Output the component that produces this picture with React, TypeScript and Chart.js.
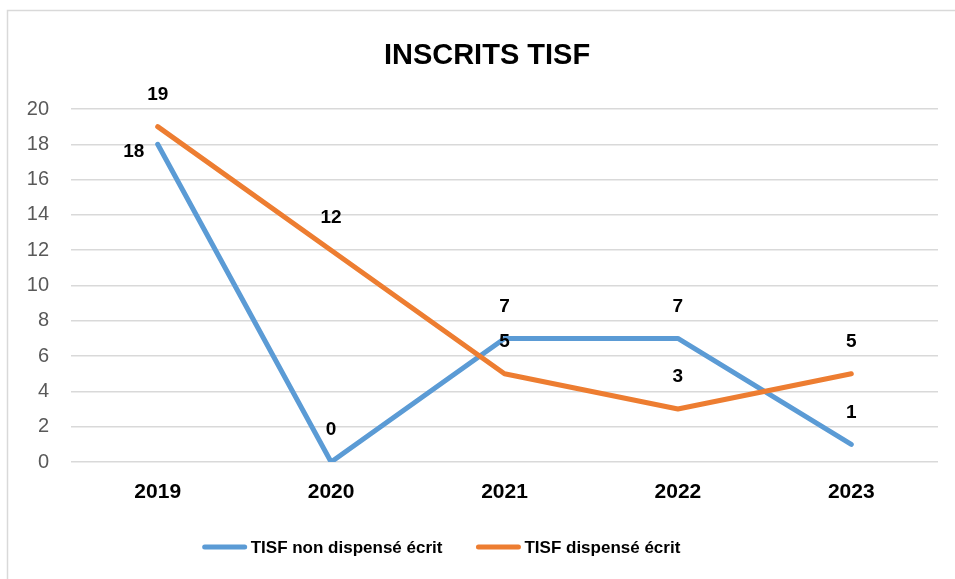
import React, { useEffect, useRef } from 'react';
import { Chart, registerables } from 'chart.js';
Chart.register(...registerables);

const title = 'INSCRITS TISF';
const categories = ['2019', '2020', '2021', '2022', '2023'];
const seriesNames = ['TISF non dispensé écrit', 'TISF dispensé écrit'];
const nonDispense = [18, 0, 7, 7, 1];
const dispense = [19, 12, 5, 3, 5];
const yMin = 0;
const yMax = 20;
const yStep = 2;

const BLUE = '#5B9BD5';
const ORANGE = '#ED7D31';
const FONT = "'Liberation Sans', Arial, sans-serif";

const decor = {
  id: 'decor',
  beforeDraw(chart: any) {
    const { ctx, width, height } = chart;
    ctx.save();
    ctx.fillStyle = '#ffffff';
    ctx.fillRect(0, 0, width, height);
    ctx.strokeStyle = '#d9d9d9';
    ctx.lineWidth = 1.5;
    ctx.beginPath();
    ctx.moveTo(7.5, height);
    ctx.lineTo(7.5, 10.5);
    ctx.lineTo(width, 10.5);
    ctx.stroke();
    ctx.restore();
  },
  afterDraw(chart: any) {
    const { ctx } = chart;
    ctx.save();
    // title
    ctx.fillStyle = '#000';
    ctx.font = `bold 29px ${FONT}`;
    ctx.textAlign = 'center';
    ctx.textBaseline = 'middle';
    ctx.fillText(title, 487, 56);
    // legend
    ctx.font = `bold 17px ${FONT}`;
    const w1 = ctx.measureText(seriesNames[0]).width;
    const w2 = ctx.measureText(seriesNames[1]).width;
    const sample = 44;
    const gapText = 4;
    const gapItem = 34;
    const total = sample + gapText + w1 + gapItem + sample + gapText + w2;
    let x = 441.5 - total / 2;
    const y = 547;
    const colors = [BLUE, ORANGE];
    const widths = [w1, w2];
    ctx.textAlign = 'left';
    ctx.lineCap = 'round';
    for (let i = 0; i < 2; i++) {
      ctx.strokeStyle = colors[i];
      ctx.lineWidth = 5;
      ctx.beginPath();
      ctx.moveTo(x + 2, y);
      ctx.lineTo(x + sample - 2, y);
      ctx.stroke();
      x += sample + gapText;
      ctx.fillStyle = '#000';
      ctx.fillText(seriesNames[i], x, y + 1);
      x += widths[i] + gapItem;
    }
    ctx.restore();
  },
  afterDatasetsDraw(chart: any) {
    const { ctx } = chart;
    ctx.save();
    ctx.font = `bold 19px ${FONT}`;
    ctx.fillStyle = '#000';
    ctx.textAlign = 'center';
    ctx.textBaseline = 'middle';
    chart.data.datasets.forEach((ds: any, di: number) => {
      const meta = chart.getDatasetMeta(di);
      meta.data.forEach((pt: any, i: number) => {
        let lx = pt.x;
        let ly = pt.y - 32;
        if (di === 0 && i === 0) {
          lx = pt.x - 24;
          ly = pt.y + 7;
        }
        ctx.fillText(String(ds.data[i]), lx, ly);
      });
    });
    ctx.restore();
  },
};

export default function App() {
  const ref = useRef<HTMLCanvasElement>(null);
  useEffect(() => {
    if (!ref.current) return;
    const chart = new Chart(ref.current, {
      type: 'line',
      data: {
        labels: categories,
        datasets: [
          {
            label: seriesNames[0],
            data: nonDispense,
            borderColor: BLUE,
            backgroundColor: BLUE,
            borderWidth: 5,
            pointRadius: 0,
            tension: 0,
            borderCapStyle: 'round',
            borderJoinStyle: 'round',
            order: 1,
          },
          {
            label: seriesNames[1],
            data: dispense,
            borderColor: ORANGE,
            backgroundColor: ORANGE,
            borderWidth: 5,
            pointRadius: 0,
            tension: 0,
            borderCapStyle: 'round',
            borderJoinStyle: 'round',
            order: 0,
          },
        ],
      },
      options: {
        responsive: false,
        animation: false,
        devicePixelRatio: 1,
        layout: { padding: { left: 0, right: 17, top: 109, bottom: 57 } },
        plugins: {
          legend: { display: false },
          title: { display: false },
          tooltip: { enabled: false },
        },
        scales: {
          x: {
            type: 'category',
            offset: true,
            grid: { display: false, drawTicks: false },
            border: { display: false },
            ticks: {
              color: '#000',
              font: { family: FONT, size: 21, weight: 'bold' },
              padding: 18,
            },
            afterFit(scale: any) {
              scale.height = 60;
            },
          },
          y: {
            min: yMin,
            max: yMax,
            grid: { color: '#d9d9d9', lineWidth: 1.5, drawTicks: false },
            border: { display: false },
            ticks: {
              stepSize: yStep,
              color: '#595959',
              font: { family: FONT, size: 20 },
              padding: 22,
            },
            afterFit(scale: any) {
              scale.width = 71;
            },
          },
        },
      },
      plugins: [decor],
    });
    return () => chart.destroy();
  }, []);
  return (
    <div style={{ position: 'fixed', left: 0, top: 0, width: 955, height: 579, overflow: 'hidden', background: '#fff' }}>
      <canvas ref={ref} width={955} height={579} style={{ display: 'block' }} />
    </div>
  );
}
